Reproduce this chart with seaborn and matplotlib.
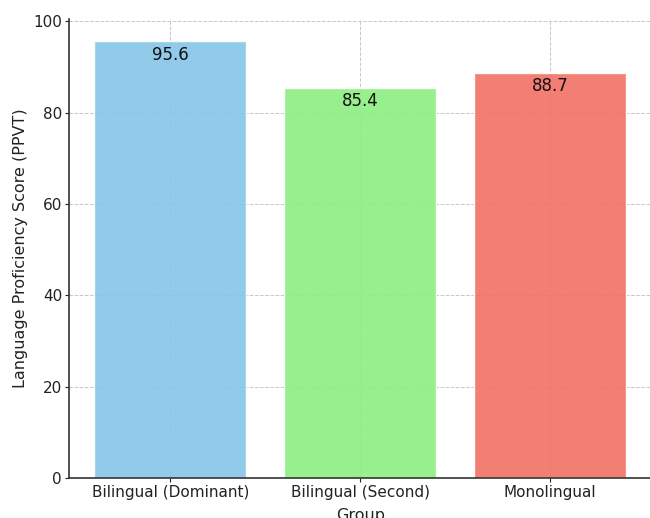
import matplotlib
matplotlib.use("Agg")
import matplotlib.pyplot as plt
import seaborn as sns
import pandas as pd

# PPVT language proficiency by group
groups = ["Bilingual (Dominant)", "Bilingual (Second)", "Monolingual"]
scores = [95.6, 85.4, 88.7]
bar_colors = ["#86C6E8", "#8DEE81", "#F27165"]

df = pd.DataFrame({"Group": groups, "Score": scores})

sns.set_style("white")
plt.rcParams["font.family"] = ["DejaVu Sans"]

fig = plt.figure(figsize=(6.5, 5.18), dpi=100)
ax = fig.add_axes([0.1062, 0.0772, 0.896, 0.8855])

sns.barplot(data=df, x="Group", y="Score", hue="Group", palette=bar_colors,
            legend=False, width=0.8, saturation=1, ax=ax, zorder=2)
for p in ax.patches:
    p.set_alpha(0.9)

ax.set_xlim(-0.534, 2.534)
ax.set_ylim(0, 100.4)
ax.set_yticks([0, 20, 40, 60, 80, 100])

ax.grid(True, linestyle="--", color="#c8c8c8", linewidth=0.7, zorder=0)
ax.set_axisbelow(True)

ax.spines["top"].set_visible(False)
ax.spines["right"].set_visible(False)
for side in ("left", "bottom"):
    ax.spines[side].set_color("#333333")
    ax.spines[side].set_linewidth(1.2)

ax.tick_params(axis="both", labelsize=11, colors="#222222", length=3, pad=2,
               direction="out", left=True, bottom=True)
ax.set_xlabel("Group", fontsize=11.5, color="#222222", labelpad=6)
ax.set_ylabel("Language Proficiency Score (PPVT)", fontsize=11.5,
              color="#222222", labelpad=4)

for i, val in enumerate(scores):
    ax.text(i, val - 1, f"{val}", ha="center", va="top", fontsize=12,
            color="#111111")

fig.savefig("out.png", dpi=100)
